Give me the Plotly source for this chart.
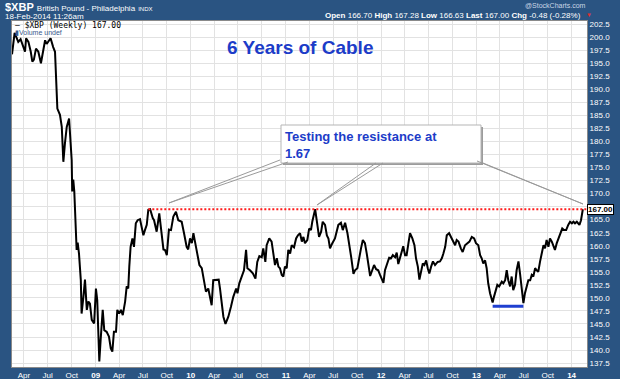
import pandas as pd
import plotly.graph_objects as go

# ---------------- data ----------------
start_date = "2008-02-15"
# days after start_date of each traced weekly vertex
day_offsets = [
    0, 10, 24, 33, 50, 54, 63, 72, 78, 84, 92, 101, 111, 120, 127, 133, 143, 148, 158, 165,
    174, 184, 191, 197, 203, 210, 219, 223, 229, 231, 235, 239, 248, 252, 257, 264, 267, 274, 280, 287,
    293, 299, 306, 315, 322, 327, 335, 340, 348, 354, 363, 372, 379, 385, 391, 399, 404, 411, 418, 425,
    434, 440, 446, 450, 455, 462, 468, 475, 482, 491, 498, 504, 510, 517, 523, 530, 540, 545, 555, 565,
    571, 581, 587, 594, 602, 610, 619, 629, 638, 651, 660, 670, 676, 683, 690, 696, 702, 711, 719, 728,
    734, 744, 753, 760, 766, 772, 783, 793, 798, 805, 811, 819, 830, 840, 849, 860, 865, 872, 881, 890,
    898, 903, 913, 924, 934, 941, 949, 958, 964, 972, 977, 987, 996, 1003, 1009, 1016, 1022, 1028, 1035, 1041,
    1047, 1054, 1060, 1067, 1073, 1082, 1090, 1097, 1105, 1112, 1118, 1124, 1133, 1140, 1147, 1152, 1163, 1169, 1178, 1186,
    1192, 1201, 1208, 1214, 1220, 1229, 1239, 1252, 1262, 1269, 1278, 1287, 1293, 1301, 1310, 1316, 1325, 1331, 1339, 1346,
    1354, 1361, 1367, 1374, 1382, 1389, 1397, 1405, 1412, 1421, 1425, 1431, 1440, 1447, 1454, 1461, 1470, 1476, 1482, 1489,
    1495, 1501, 1508, 1514, 1521, 1527, 1536, 1544, 1550, 1557, 1563, 1569, 1576, 1582, 1589, 1595, 1601, 1608, 1615, 1623,
    1633, 1642, 1649, 1655, 1662, 1668, 1677, 1687, 1700, 1706, 1713, 1722, 1729, 1738, 1747, 1755, 1764, 1773, 1780, 1789,
    1796, 1802, 1808, 1815, 1821, 1827, 1834, 1840, 1844, 1849, 1856, 1862, 1869, 1879, 1885, 1892, 1898, 1904, 1911, 1917,
    1923, 1930, 1936, 1943, 1949, 1956, 1962, 1968, 1975, 1981, 1988, 1994, 2000, 2007, 2013, 2019, 2026, 2032, 2039, 2045,
    2051, 2058, 2064, 2071, 2077, 2083, 2090, 2096, 2105, 2111, 2118, 2126, 2134, 2141, 2148, 2154, 2160, 2167, 2177, 2183,
    2190,
]
closes = [
    196.7, 200.8, 199.1, 199.6, 197.2, 199.8, 199.1, 197.2, 195.3, 195.7, 197.8, 197.2, 195.0, 197.8, 199.4, 198.7, 199.6, 199.8, 198.1, 197.2,
    186.3, 185.1, 182.8, 176.1, 179.6, 182.8, 184.4, 181.5, 176.4, 170.4, 172.7, 170.4, 159.2, 160.6, 158.5, 153.4, 147.0, 150.2, 153.5, 147.7,
    149.3, 148.9, 145.8, 145.1, 151.8, 149.6, 137.8, 141.9, 147.7, 143.8, 143.5, 142.6, 140.3, 139.7, 143.5, 143.5, 147.7, 147.0, 147.7, 146.7,
    149.3, 152.2, 151.8, 156.0, 159.8, 161.4, 159.8, 164.3, 164.9, 165.1, 163.3, 162.0, 163.0, 164.0, 166.9, 167.0, 165.3, 164.9, 162.7, 166.2,
    163.6, 159.3, 159.2, 158.2, 163.1, 163.0, 165.6, 166.5, 164.9, 164.6, 162.4, 159.8, 159.3, 161.4, 160.5, 162.4, 160.8, 158.5, 156.3, 155.7,
    153.7, 151.2, 151.8, 150.2, 148.6, 153.4, 153.5, 153.5, 151.8, 148.3, 146.4, 145.0, 146.4, 148.3, 150.2, 151.8, 150.9, 152.8, 154.1, 155.3,
    159.2, 155.7, 155.3, 154.7, 153.7, 156.9, 158.0, 157.8, 159.5, 156.9, 160.1, 161.4, 160.8, 158.5, 156.3, 157.6, 156.0, 155.7, 154.4, 154.1,
    156.0, 155.7, 159.2, 158.5, 160.1, 159.7, 161.4, 162.0, 162.4, 160.8, 161.7, 160.5, 161.1, 163.3, 163.0, 164.6, 167.0, 164.9, 161.7, 162.7,
    164.6, 164.0, 162.0, 161.4, 159.5, 160.5, 161.4, 164.0, 164.4, 163.0, 164.4, 162.4, 160.8, 157.9, 154.6, 155.3, 155.7, 157.6, 159.5, 161.1,
    160.5, 158.5, 156.6, 154.2, 155.3, 156.3, 155.5, 155.3, 154.4, 153.4, 152.9, 155.3, 156.6, 157.7, 157.6, 158.2, 157.8, 158.7, 156.5, 157.6,
    159.0, 159.9, 158.2, 158.2, 160.5, 162.4, 161.4, 160.1, 157.6, 156.0, 153.5, 155.3, 156.6, 156.3, 157.2, 155.7, 154.7, 156.0, 157.0, 156.3,
    156.9, 157.0, 157.6, 158.5, 159.8, 162.0, 162.4, 161.4, 160.1, 161.1, 160.8, 159.5, 158.8, 160.1, 160.5, 160.8, 161.7, 161.4, 160.5, 160.1,
    158.2, 157.6, 156.6, 157.2, 155.7, 152.8, 150.9, 149.9, 149.1, 150.2, 151.5, 152.5, 152.2, 153.1, 152.8, 153.4, 155.3, 153.4, 152.2, 154.1,
    151.5, 152.5, 155.3, 157.0, 154.7, 151.5, 149.0, 150.9, 152.5, 153.4, 153.4, 154.4, 154.1, 155.7, 155.3, 155.0, 157.0, 158.2, 160.1, 159.5,
    161.1, 159.8, 161.4, 160.8, 160.1, 159.2, 160.5, 161.4, 162.7, 163.3, 163.0, 163.0, 164.0, 164.6, 164.3, 164.6, 164.3, 164.6, 164.0, 164.9,
    167.0,
]
assert len(day_offsets) == len(closes)

resistance_level = 167.0
resistance_start_day = 523
support_level = 148.4
support_start_day = 1844
support_end_day = 1962

tick_dates = [
    "2008-04-01", "2008-07-01", "2008-10-01", "2009-01-01", "2009-04-01", "2009-07-01", "2009-10-01",
    "2010-01-01", "2010-04-01", "2010-07-01", "2010-10-01", "2011-01-01", "2011-04-01", "2011-07-01",
    "2011-10-01", "2012-01-01", "2012-04-01", "2012-07-01", "2012-10-01", "2013-01-01", "2013-04-01",
    "2013-07-01", "2013-10-01", "2014-01-01",
]
tick_labels = [
    "Apr", "Jul", "Oct", "<b>09</b>", "Apr", "Jul", "Oct", "<b>10</b>", "Apr", "Jul", "Oct", "<b>11</b>",
    "Apr", "Jul", "Oct", "<b>12</b>", "Apr", "Jul", "Oct", "<b>13</b>", "Apr", "Jul", "Oct", "<b>14</b>",
]
y_tick_values = [137.5 + 2.5 * i for i in range(27)]
# the last-price box covers the 167.5 label
y_tick_labels = ["" if abs(v - 167.5) < 1e-9 else "{:.1f}".format(v) for v in y_tick_values]
x_range = ["2008-02-15", "2014-03-01"]
y_range = [136.75, 203.1]

# ---------------- figure ----------------
start = pd.Timestamp(start_date)
dates = start + pd.to_timedelta(day_offsets, unit="D")

FRAME = "#2a5482"
BLUE_TXT = "#1c3cc8"
FONT = "Liberation Sans, Arial, sans-serif"

fig = go.Figure()
fig.add_trace(go.Scatter(x=dates, y=closes, mode="lines",
                         line=dict(color="black", width=2), hoverinfo="skip", showlegend=False))

fig.add_shape(type="line", xref="x", yref="y",
              x0=start + pd.Timedelta(days=resistance_start_day), x1=x_range[1],
              y0=resistance_level, y1=resistance_level,
              line=dict(color="#ff1a1a", width=2, dash="2px,2px"))
fig.add_shape(type="line", xref="x", yref="y",
              x0=start + pd.Timedelta(days=support_start_day), x1=start + pd.Timedelta(days=support_end_day),
              y0=support_level, y1=support_level,
              line=dict(color="#1f3fd0", width=3))


def px(x):
    return (x - 12) / 575.0


def py(y):
    return (367 - y) / 346.0


fig.add_shape(type="rect", xref="paper", yref="paper",
              x0=px(283), x1=px(483), y0=py(165), y1=py(127),
              line=dict(width=0), fillcolor="#9c9c9c")
fig.add_shape(type="rect", xref="paper", yref="paper",
              x0=px(281), x1=px(481), y0=py(163), y1=py(125),
              line=dict(color="#b5b5b5", width=1), fillcolor="white")

callouts = [
    ((280, 160), (288, 162), (169, 203)),
    ((376, 163), (383, 163), (317, 205)),
    ((477, 161), (483, 163), (583, 204)),
]
for (a, b, tip) in callouts:
    path = "M {:.4f} {:.4f} L {:.4f} {:.4f} L {:.4f} {:.4f}".format(
        px(a[0]), py(a[1]), px(tip[0]), py(tip[1]), px(b[0]), py(b[1]))
    fig.add_shape(type="path", xref="paper", yref="paper", path=path,
                  line=dict(color="#9a9a9a", width=1), fillcolor="rgba(255,255,255,0)")

annotations = [
    dict(text="<b>6 Years of Cable</b>", x=px(300), y=py(47), xanchor="center", yanchor="middle",
         font=dict(size=19, color=BLUE_TXT, family=FONT)),
    dict(text="<b>Testing the resistance at<br>1.67</b>", x=px(283), y=py(127), xanchor="left", yanchor="top",
         align="left", font=dict(size=13, color=BLUE_TXT, family=FONT)),
    dict(text="— $XBP (Weekly) 167.00", x=px(13), y=py(25), xanchor="left", yanchor="middle",
         font=dict(size=8, color="black", family="DejaVu Sans Mono, monospace")),
    dict(text="▮Volume undef", x=px(13), y=py(33), xanchor="left", yanchor="middle",
         font=dict(size=7, color="#3a5a8c", family=FONT)),
    dict(text="<b>$XBP</b> <span style='font-size:8px'>British Pound - Philadelphia</span> <span style='font-size:6px'>INDX</span>",
         x=px(3), y=py(7), xanchor="left", yanchor="middle",
         font=dict(size=11, color="white", family=FONT)),
    dict(text="18-Feb-2014 11:26am", x=px(3), y=py(17), xanchor="left", yanchor="middle",
         font=dict(size=8, color="white", family=FONT)),
    dict(text="@StockCharts.com", x=px(555), y=py(6), xanchor="center", yanchor="middle",
         font=dict(size=7, color="#c9d6e6", family=FONT)),
    dict(text="<b>Open</b> 166.70 <b>High</b> 167.28 <b>Low</b> 166.63 <b>Last</b> 167.00 <b>Chg</b> -0.48 (-0.28%)",
         x=px(583), y=py(15), xanchor="right", yanchor="middle",
         font=dict(size=8, color="white", family=FONT)),
    dict(text="▼", x=px(584), y=py(15), xanchor="left", yanchor="middle",
         font=dict(size=6, color="#e03030", family=FONT)),
    dict(text="<b>167.00</b>", x=1.0, xref="paper", y=resistance_level, yref="y", xanchor="left", yanchor="middle",
         bgcolor="white", bordercolor="black", borderwidth=1, borderpad=0,
         font=dict(size=8, color="black", family=FONT)),
]
for a in annotations:
    a.setdefault("xref", "paper")
    a.setdefault("yref", "paper")
    a.setdefault("showarrow", False)
fig.update_layout(annotations=annotations)

fig.update_layout(
    width=620, height=379,
    margin=dict(l=12, r=33, t=21, b=12, autoexpand=False),
    paper_bgcolor=FRAME, plot_bgcolor="white",
    font=dict(family=FONT, color="white", size=8),
    showlegend=False,
    xaxis=dict(type="date", range=x_range, tickvals=tick_dates, ticktext=tick_labels,
               showgrid=True, gridcolor="#e2e2e2", gridwidth=1, ticks="", zeroline=False,
               showline=True, linecolor="#8a8a8a", mirror=True, ticklabelstandoff=0,
               tickfont=dict(size=8, color="white", family=FONT)),
    yaxis=dict(range=y_range, side="right", tickvals=y_tick_values, ticktext=y_tick_labels,
               showgrid=True, gridcolor="#e2e2e2", gridwidth=1, ticks="", zeroline=False,
               showline=True, linecolor="#8a8a8a", mirror=True,
               tickfont=dict(size=8, color="white", family=FONT)),
)

fig.write_html("out.html", config={"displayModeBar": False},
               post_script="document.body.style.margin='0';document.body.style.overflow='hidden';")
